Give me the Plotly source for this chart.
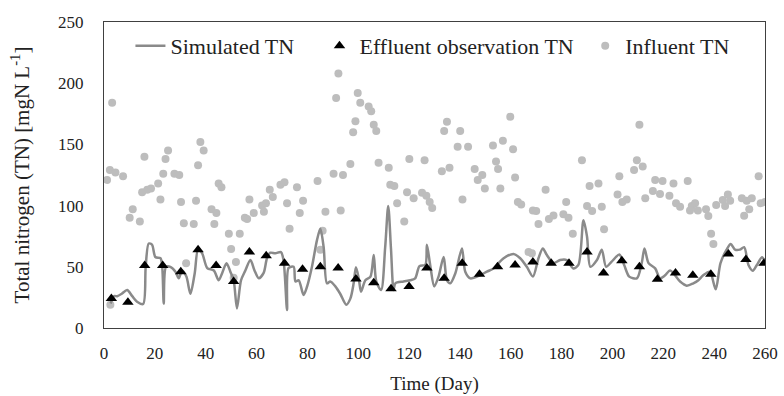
import plotly.graph_objects as go

# ---------------- data ----------------
influent_day = [1.2, 2.3, 2.5, 3.2, 4.5, 7.5, 10.1, 11.3, 14.1, 15.0, 15.9, 17.0, 18.5, 21.3, 22.2, 23.3,
                24.2, 25.2, 27.7, 29.6, 30.3, 31.4, 32.3, 35.3, 36.2, 37.0, 37.9, 39.2, 42.3, 43.4, 44.2,
                45.1, 46.2, 49.1, 50.0, 51.0, 51.9, 53.4, 55.4, 56.3, 57.2, 58.9, 62.2, 62.9, 63.7, 65.2,
                66.4, 69.4, 71.0, 72.0, 73.0, 75.9, 77.0, 78.3, 84.0, 85.1, 86.0, 87.1, 90.3, 91.3, 92.2,
                93.1, 94.0, 96.9, 98.0, 98.9, 99.8, 100.8, 104.1, 105.1, 106.1, 107.1, 108.0, 112.0,
                112.6, 114.2, 115.3, 118.1, 119.2, 120.1, 121.8, 125.1, 126.1, 126.8, 128.1, 129.1,
                132.9, 133.8, 134.9, 135.9, 139.1, 140.1, 141.0, 143.2, 145.8, 147.0, 148.8, 149.8,
                153.0, 154.2, 155.0, 155.9, 156.9, 159.8, 160.9, 161.7, 162.8, 164.1, 167.0, 168.3,
                168.7, 170.0, 170.9, 173.7, 175.0, 176.8, 180.7, 181.8, 182.7, 184.4, 188.0, 190.0,
                191.0, 192.0, 194.5, 195.8, 196.7, 202.0, 202.7, 203.9, 205.6, 208.5, 209.6, 210.6,
                211.9, 212.9, 215.9, 216.8, 218.7, 219.7, 222.4, 224.0, 225.0, 226.6, 229.6, 230.5,
                231.2, 232.5, 233.6, 236.8, 237.7, 238.8, 239.7, 240.8, 243.4, 244.3, 245.4, 246.3,
                250.9, 251.8, 252.8, 253.8, 254.8, 257.5, 258.3, 260.0]
influent_tn = [121, 129, 19, 184, 127, 124, 90, 97, 87, 111, 140, 113, 114, 118, 105, 126,
               138, 145, 126, 125, 103, 85.5, 53, 85, 104, 133, 152, 145, 97, 85, 94,
               118, 115, 77, 64.5, 41, 54, 77, 90, 89, 105, 94, 100, 95, 102, 113,
               107, 117, 119, 102, 81, 115, 94, 104, 120, 64, 79.5, 95, 126, 188, 208,
               96, 125, 134, 160, 169, 192, 184, 181, 177, 166, 161, 135, 131,
               117, 116, 102, 87, 111, 138, 106, 110.5, 137, 108, 103, 98,
               128, 161, 168.6, 131, 148, 161, 105, 148, 130, 121, 125, 114,
               149, 136, 130, 114, 153, 172.6, 146, 123, 103, 101, 62, 61,
               96, 95.6, 85, 113, 89, 92, 93, 103, 90, 77, 137, 99.7,
               116, 95.6, 118, 99, 80.6, 109, 124, 103, 105, 129, 137, 166,
               132, 106, 112, 121, 109.5, 120, 108, 118, 102, 99, 120, 96,
               99.7, 102, 96, 97, 91.5, 77, 68.6, 100.5, 104.6, 99.7, 109, 104,
               106, 91.7, 104, 97, 106, 124, 102, 103]

effluent_day = [2.9, 9.4, 16, 23.1, 30.2, 37, 44.1, 51, 57.2, 63.8, 71, 78.1, 85.1, 92.1, 99.1,
                106.1, 112.9, 120, 127, 133.8, 140.9, 147.7, 154.8, 161.7, 168.7, 175.9, 182.9,
                190, 196.5, 203.7, 210.6, 217.7, 224.8, 231.6, 238.7, 245.6, 252.5, 259.6]
effluent_tn = [24, 21, 51, 51, 46, 64, 51, 38, 62, 59, 53, 48, 50, 49, 40,
               37, 32, 34, 49, 40.6, 53, 44, 50, 51.5, 54, 53, 53,
               62, 45, 55, 50, 39.8, 45, 43, 44, 60.5, 56, 53]

sim_day = [2.6, 4.0, 5.2, 7.0, 9.1, 11.1, 13.0, 15.4, 16.4, 17.6, 18.9, 20.2, 22.2, 22.9, 23.5,
           24.4, 26.1, 28.1, 29.4, 30.7, 32.4, 34.0, 35.7, 37.0, 38.6, 40.6, 43.2, 45.1, 46.5,
           48.2, 49.7, 51.0, 52.3, 53.9, 55.6, 57.6, 59.2, 60.9, 62.8, 64.1, 65.4, 67.4, 69.6,
           70.6, 72.0, 72.6, 74.6, 75.3, 76.6, 78.5, 79.9, 81.8, 83.8, 85.1, 86.4, 87.7, 89.0,
           91.0, 92.9, 95.3, 96.9, 98.2, 99.1, 100.2, 101.1, 102.8, 104.8, 106.1, 107.1, 109.0,
           110.6, 111.8, 112.9, 113.9, 114.6, 117.8, 120.5, 122.4, 124.1, 126.4, 127.0, 128.3,
           129.9, 131.6, 133.6, 134.9, 136.2, 138.2, 140.8, 142.1, 144.1, 146.7, 150.6, 153.2,
           157.2, 161.1, 163.7, 166.3, 168.7, 170.9, 172.6, 174.2, 176.8, 179.4, 182.0, 184.6,
           186.6, 188.6, 190.0, 191.3, 193.9, 195.8, 197.5, 199.6, 202.7, 204.6, 206.6, 209.6,
           211.5, 212.6, 214.2, 216.8, 218.7, 220.7, 222.7, 226.6, 229.2, 231.8, 233.8, 235.7,
           238.3, 240.6, 242.5, 244.9, 246.5, 248.2, 250.1, 251.8, 253.5, 255.2, 256.8, 258.8,
           259.6]
sim_tn = [20, 26, 26, 28, 31, 26, 21.5, 19.6, 50, 69, 68, 58, 57, 50, 20,
          50, 50, 46, 40.6, 47, 42, 28, 45, 64, 61, 49, 47, 39, 45,
          53, 46, 39, 16, 39, 47, 55.5, 47, 40.6, 45, 57, 61.5, 61, 62,
          55.5, 14.7, 49, 50, 38, 39, 27, 34, 50, 72, 81, 66, 36.5, 38,
          34, 28, 19, 24, 36.5, 49.6, 40.6, 29.7, 39, 42, 59.6, 38, 31,
          66, 99.7, 64, 31, 36.5, 38, 39, 40.6, 50.6, 51.7, 68, 51.5,
          34, 42, 58, 39, 36.5, 44.7, 65, 46, 40.6, 42, 46, 48.7,
          57, 60.5, 57, 50, 42, 57, 65, 59.6, 53, 55.5, 55.5, 48.7,
          51.5, 88, 74.6, 50, 55.5, 64, 50, 54, 60, 51.5, 42, 40.6,
          53, 65, 53, 48.7, 40.6, 43, 47, 38, 34.6, 36.5, 39, 43,
          46, 31.6, 53, 64, 68.6, 64, 64, 66, 51.5, 46.8, 51.5, 57.8,
          56]

x_ticks = [0, 20, 40, 60, 80, 100, 120, 140, 160, 180, 200, 220, 240, 260]
y_ticks = [0, 50, 100, 150, 200, 250]

FONT = "Liberation Serif, Times New Roman, serif"

fig = go.Figure()
fig.add_trace(go.Scatter(x=influent_day, y=influent_tn, mode="markers", name="Influent TN",
                         marker=dict(symbol="circle", size=8, color="#bdbdbd"),
                         legend="legend3"))
fig.add_trace(go.Scatter(x=sim_day, y=sim_tn, mode="lines", name="Simulated TN",
                         line=dict(color="#8a8a8a", width=2.5, shape="spline", smoothing=0.8),
                         legend="legend"))
fig.add_trace(go.Scatter(x=effluent_day, y=effluent_tn, mode="markers", name="Effluent observation TN",
                         marker=dict(symbol="triangle-up", size=10, color="black"),
                         legend="legend2"))

leg_common = dict(orientation="h", yanchor="middle", y=0.922, xanchor="left",
                  bgcolor="rgba(0,0,0,0)", borderwidth=0,
                  font=dict(family=FONT, size=22, color="#222222"))
fig.update_layout(
    width=784, height=396,
    margin=dict(l=104, r=19, t=22, b=68, autoexpand=False),
    paper_bgcolor="white", plot_bgcolor="white",
    showlegend=True,
    legend=dict(x=0.040, **leg_common),
    legend2=dict(x=0.326, **leg_common),
    legend3=dict(x=0.728, **leg_common),
    font=dict(family=FONT, size=17, color="#222222"),
)
fig.update_xaxes(range=[0, 260], tickvals=x_ticks, showgrid=False, zeroline=False,
                 showline=True, linecolor="#404040", linewidth=1, mirror=True, ticks="",
                 ticklabelstandoff=10, automargin=False,
                 title=dict(text="Time (Day)", font=dict(family=FONT, size=19), standoff=14))
fig.update_yaxes(range=[0, 250], tickvals=y_ticks, showgrid=False, zeroline=False,
                 showline=True, linecolor="#404040", linewidth=1, mirror=True, ticks="",
                 ticklabelstandoff=16, automargin=False,
                 title=dict(text="Total nitrogen (TN) [mgN L<sup>-1</sup>]",
                            font=dict(family=FONT, size=21), standoff=22))

fig.write_html("out.html", config={"displayModeBar": False},
               post_script="document.body.style.margin='0';")
